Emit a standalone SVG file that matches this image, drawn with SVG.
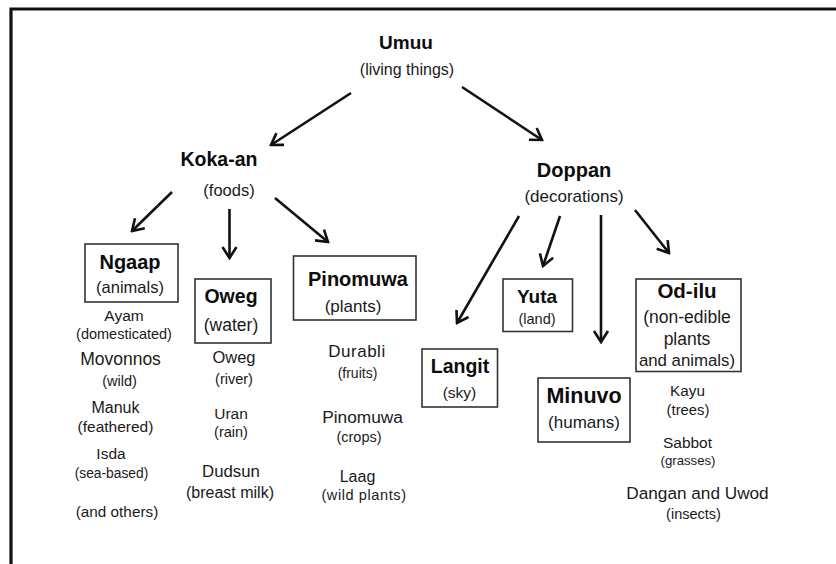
<svg xmlns="http://www.w3.org/2000/svg" width="836" height="564" viewBox="0 0 836 564">
<style>
text{font-family:"Liberation Sans",Arial,sans-serif;fill:#1a1a1a;text-anchor:middle}
.h{font-weight:bold;fill:#0d0d0d}
.box{fill:#fff;stroke:#333;stroke-width:1.6}
.conn line{stroke:#111;stroke-width:2.6;marker-end:url(#ah)}
</style>
<defs>
<marker id="ah" markerUnits="userSpaceOnUse" viewBox="-14 -9 16 18" refX="0" refY="0" markerWidth="16" markerHeight="18" orient="auto">
<path d="M-11,-7 L0,0 L-11,7" fill="none" stroke="#111" stroke-width="2.6"/>
</marker>
</defs>
<rect width="836" height="564" fill="#fff"/>
<path d="M11,564 V9 H836" fill="none" stroke="#111" stroke-width="3.2"/>

<g id="umuu">
<text class="h" x="406" y="49" font-size="19">Umuu</text>
<text x="407" y="75" font-size="16">(living things)</text>
</g>
<g id="koka-an">
<text class="h" x="219" y="166" font-size="19.5">Koka-an</text>
<text x="229" y="196" font-size="16.5">(foods)</text>
</g>
<g id="doppan">
<text class="h" x="574" y="177" font-size="20">Doppan</text>
<text x="574" y="202" font-size="17">(decorations)</text>
</g>

<g id="ngaap">
<rect class="box" x="85" y="244" width="93" height="58"/>
<text class="h" x="130" y="269" font-size="20">Ngaap</text>
<text x="130" y="293" font-size="16.5">(animals)</text>
<text x="124" y="321" font-size="15.5">Ayam</text>
<text x="124" y="339" font-size="14.5">(domesticated)</text>
<text x="120.5" y="365" font-size="17.5">Movonnos</text>
<text x="119.5" y="385.5" font-size="14.5">(wild)</text>
<text x="115.5" y="412.5" font-size="16">Manuk</text>
<text x="115.5" y="431.5" font-size="15.5">(feathered)</text>
<text x="111" y="459" font-size="15.5">Isda</text>
<text x="111.5" y="478" font-size="13.8">(sea-based)</text>
<text x="117" y="517" font-size="15.3">(and others)</text>
</g>

<g id="oweg">
<rect class="box" x="195" y="279" width="76" height="64"/>
<text class="h" x="231" y="303" font-size="19.5">Oweg</text>
<text x="231" y="331" font-size="17.5">(water)</text>
<text x="234" y="363" font-size="16.5">Oweg</text>
<text x="234" y="384" font-size="14.5">(river)</text>
<text x="231" y="419" font-size="15.5">Uran</text>
<text x="231" y="437" font-size="14.5">(rain)</text>
<text x="231" y="476.5" font-size="16.8">Dudsun</text>
<text x="230" y="497.5" font-size="16">(breast milk)</text>
</g>

<g id="pinomuwa">
<rect class="box" x="293.5" y="256" width="122.5" height="64"/>
<text class="h" x="358" y="286" font-size="20">Pinomuwa</text>
<text x="353" y="311.5" font-size="17">(plants)</text>
<text x="357" y="357" font-size="17" letter-spacing="0.5">Durabli</text>
<text x="357.5" y="378" font-size="14">(fruits)</text>
<text x="362.5" y="422.5" font-size="17.3">Pinomuwa</text>
<text x="359" y="441.5" font-size="14.5">(crops)</text>
<text x="357.5" y="482" font-size="16">Laag</text>
<text x="364" y="500" font-size="14.5" letter-spacing="0.6">(wild plants)</text>
</g>

<g id="langit">
<rect class="box" x="422" y="349" width="75.5" height="58"/>
<text class="h" x="460" y="373" font-size="19.5">Langit</text>
<text x="459.5" y="398" font-size="15.5">(sky)</text>
</g>

<g id="yuta">
<rect class="box" x="503" y="279" width="69.5" height="52.5"/>
<text class="h" x="537" y="303" font-size="19">Yuta</text>
<text x="537" y="324" font-size="14.5">(land)</text>
</g>

<g id="minuvo">
<rect class="box" x="538" y="378" width="92" height="64"/>
<text class="h" x="584" y="403" font-size="21.5">Minuvo</text>
<text x="584" y="428" font-size="17">(humans)</text>
</g>

<g id="od-ilu">
<rect class="box" x="636" y="279" width="105" height="92.5"/>
<text class="h" x="687" y="298" font-size="20.5">Od-ilu</text>
<text x="687" y="323" font-size="17.5">(non-edible</text>
<text x="687" y="345" font-size="17.5">plants</text>
<text x="687" y="366" font-size="16.8">and animals)</text>
<text x="687.5" y="396" font-size="15.3">Kayu</text>
<text x="688" y="415" font-size="14.8">(trees)</text>
<text x="687.5" y="448" font-size="15.5">Sabbot</text>
<text x="688" y="465" font-size="13.2">(grasses)</text>
<text x="697.5" y="499" font-size="17.2">Dangan and Uwod</text>
<text x="693.5" y="519" font-size="14.5">(insects)</text>
</g>

<g id="connectors" class="conn">
<line x1="351" y1="93" x2="271" y2="145"/>
<line x1="462" y1="87" x2="542" y2="140"/>
<line x1="172" y1="192" x2="132" y2="231"/>
<line x1="229.5" y1="209" x2="229.5" y2="258"/>
<line x1="275" y1="198" x2="328" y2="242"/>
<line x1="519" y1="216" x2="457" y2="323"/>
<line x1="560" y1="216" x2="543" y2="266"/>
<line x1="601" y1="215" x2="601" y2="342"/>
<line x1="635" y1="210" x2="669" y2="253"/>
</g>
</svg>
